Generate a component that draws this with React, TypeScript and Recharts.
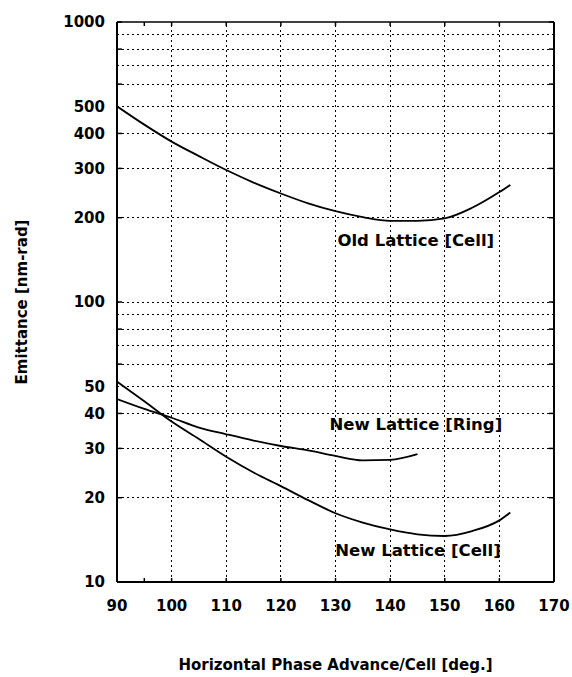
import { LineChart, Line, XAxis, YAxis, ReferenceLine, ReferenceDot } from 'recharts';

// Old lattice, single cell
const oldCellX = [90, 95, 100, 105, 110, 115, 120, 125, 130, 135, 140, 145, 150, 155, 160, 162];
const oldCellY = [500, 430, 374, 332, 296, 267, 244, 225, 211, 201, 195, 195, 199, 217, 247, 262];

// New lattice, whole ring
const newRingX = [90, 95, 100, 105, 110, 115, 120, 125, 130, 135, 140, 145];
const newRingY = [45, 41.5, 38.6, 35.6, 33.7, 32, 30.6, 29.5, 28.2, 27.2, 27.3, 28.6];

// New lattice, single cell
const newCellX = [90, 95, 100, 105, 110, 115, 120, 125, 130, 135, 140, 145, 150, 155, 160, 162];
const newCellY = [52, 44.2, 37.4, 32.4, 28, 24.6, 22, 19.6, 17.6, 16.3, 15.4, 14.8, 14.6, 15.2, 16.6, 17.7];

const xTicks = [90, 100, 110, 120, 130, 140, 150, 160, 170];
const xMinorTicks = [90, 95, 100, 105, 110, 115, 120, 125, 130, 135, 140, 145, 150, 155, 160, 165, 170];
const xGrid = [100, 110, 120, 130, 140, 150, 160];
const yTicks = [10, 20, 30, 40, 50, 100, 200, 300, 400, 500, 1000];
const yGrid = [20, 30, 40, 50, 60, 70, 80, 90, 100, 200, 300, 400, 500, 600, 700, 800, 900];
const yAllTicks = [10, 20, 30, 40, 50, 60, 70, 80, 90, 100, 200, 300, 400, 500, 600, 700, 800, 900, 1000];

const curveNames = ['Old Lattice [Cell]', 'New Lattice [Ring]', 'New Lattice [Cell]'];
const labelAt = [
  [144.7, 166],
  [144.7, 36.4],
  [145.1, 13.0],
];

const toPoints = (xs: number[], ys: number[]) => xs.map((x, i) => ({ x, y: ys[i] }));

const FONT = '"DejaVu Sans", sans-serif';

const CurveLabel = (text: string) => (props: any) => {
  const vb = props.viewBox || {};
  const cx = (vb.x ?? 0) + (vb.width ?? 0) / 2;
  const cy = (vb.y ?? 0) + (vb.height ?? 0) / 2;
  return (
    <text x={cx} y={cy} textAnchor="middle" dominantBaseline="central"
      fontFamily={FONT} fontWeight="bold" fontSize={16.5} fill="#000">
      {text}
    </text>
  );
};

const YTitle = (props: any) => {
  const vb = props.viewBox;
  const x = vb.x + 22;
  const y = vb.y + vb.height / 2;
  return (
    <text x={x} y={y} transform={`rotate(-90 ${x} ${y})`} textAnchor="middle"
      dominantBaseline="central" fontFamily={FONT} fontWeight="bold" fontSize={15} fill="#000">
      Emittance [nm-rad]
    </text>
  );
};

const XTitle = (props: any) => {
  const vb = props.viewBox;
  return (
    <text x={vb.x + vb.width / 2} y={vb.y + 83} textAnchor="middle" dominantBaseline="central"
      fontFamily={FONT} fontWeight="bold" fontSize={15} fill="#000">
      Horizontal Phase Advance/Cell [deg.]
    </text>
  );
};

const NoLabel = () => <g />;

export default function App() {
  const series = [
    toPoints(oldCellX, oldCellY),
    toPoints(newRingX, newRingY),
    toPoints(newCellX, newCellY),
  ];
  const tickStyle = { fontFamily: FONT, fontSize: 15, fontWeight: 'bold', fill: '#000' };
  const innerTick = { stroke: '#000', strokeWidth: 1.5 };
  const gridProps = {
    stroke: '#000',
    strokeWidth: 1,
    strokeDasharray: '2 3',
    shapeRendering: 'crispEdges',
    ifOverflow: 'hidden' as const,
  };

  return (
    <div style={{ width: 572, height: 677, background: '#fff' }}>
      <style>{'body{margin:0}'}</style>
      <LineChart width={572} height={677} margin={{ top: 22, right: 18, bottom: 0, left: 0 }}>
        {yGrid.map((v) => (
          <ReferenceLine key={'gy' + v} y={v} {...gridProps} />
        ))}
        {xGrid.map((v) => (
          <ReferenceLine key={'gx' + v} x={v} {...gridProps} />
        ))}
        <XAxis
          dataKey="x"
          type="number"
          domain={[90, 170]}
          ticks={xTicks}
          allowDataOverflow
          height={95}
          tickLine={false}
          tickSize={0}
          tickMargin={18}
          axisLine={{ stroke: '#000', strokeWidth: 2 }}
          tick={tickStyle}
          label={<XTitle />}
        />
        <XAxis
          xAxisId="bottomTicks"
          dataKey="x"
          type="number"
          domain={[90, 170]}
          ticks={xMinorTicks}
          allowDataOverflow
          mirror
          axisLine={false}
          tick={NoLabel}
          tickSize={4}
          tickLine={innerTick}
        />
        <XAxis
          xAxisId="top"
          orientation="top"
          dataKey="x"
          type="number"
          domain={[90, 170]}
          ticks={xMinorTicks}
          allowDataOverflow
          mirror
          tick={NoLabel}
          tickSize={4}
          tickLine={innerTick}
          axisLine={{ stroke: '#000', strokeWidth: 1.5 }}
        />
        <YAxis
          scale="log"
          domain={[10, 1000]}
          ticks={yTicks}
          allowDataOverflow
          width={117}
          tickLine={false}
          tickSize={0}
          tickMargin={12}
          axisLine={{ stroke: '#000', strokeWidth: 2 }}
          tick={tickStyle}
          label={<YTitle />}
        />
        <YAxis
          yAxisId="leftTicks"
          scale="log"
          domain={[10, 1000]}
          ticks={yAllTicks}
          allowDataOverflow
          mirror
          axisLine={false}
          tick={NoLabel}
          tickSize={5}
          tickLine={innerTick}
        />
        <YAxis
          yAxisId="right"
          orientation="right"
          scale="log"
          domain={[10, 1000]}
          ticks={yAllTicks}
          allowDataOverflow
          mirror
          tick={NoLabel}
          tickSize={5}
          tickLine={innerTick}
          axisLine={{ stroke: '#000', strokeWidth: 2 }}
        />
        {series.map((pts, i) => (
          <Line
            key={curveNames[i]}
            name={curveNames[i]}
            data={pts}
            dataKey="y"
            type="monotone"
            stroke="#000"
            strokeWidth={1.8}
            dot={false}
            isAnimationActive={false}
          />
        ))}
        {labelAt.map(([lx, ly], i) => (
          <ReferenceDot
            key={'lbl' + i}
            x={lx}
            y={ly}
            r={0}
            fill="none"
            stroke="none"
            ifOverflow="visible"
            label={CurveLabel(curveNames[i])}
          />
        ))}
      </LineChart>
    </div>
  );
}
